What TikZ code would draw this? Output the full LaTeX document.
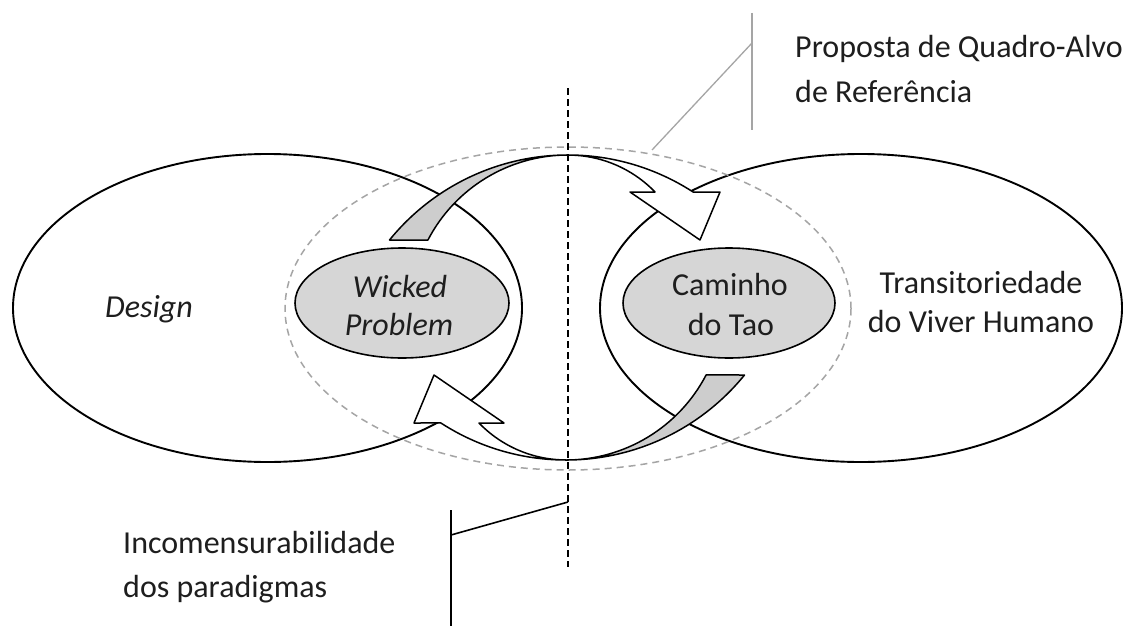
\documentclass[tikz,border=0pt]{standalone}
\usepackage{fontspec}
\setmainfont{Carlito}
\usetikzlibrary{shapes.geometric}
\definecolor{arrowgray}{RGB}{205,205,205}
\definecolor{ovalgray}{RGB}{214,214,214}
\definecolor{dashgray}{RGB}{165,165,165}
\definecolor{txtcol}{RGB}{30,30,30}
\newcommand{\curvedarrowshape}{%
  \filldraw[arrowpart, fill=arrowgray] (389.5,240) arc[start angle=219.08, end angle=270, radius=230]
    arc[start angle=270, end angle=207.5, radius=158] -- cycle;
  \filldraw[arrowpart, fill=white] (568,155) arc[start angle=270, end angle=302.96, radius=230]
    -- (720,192) -- (700,240) -- (630,192) -- (655,192)
    arc[start angle=316, end angle=270, radius=121] -- cycle;
}
\begin{document}
\begin{tikzpicture}[x=1pt,y=-1pt,line join=round]
\tikzset{
  bigell/.style={draw=black, line width=1.9pt},
  frame/.style={draw=dashgray, line width=1.5pt, dash pattern=on 7pt off 5pt},
  oval/.style={ellipse, draw=black, fill=ovalgray, line width=1.6pt, inner sep=0pt},
  arrowpart/.style={draw=black, line width=1.5pt},
  txt/.style={font=\fontsize{32}{38}\selectfont, text=txtcol, anchor=base, inner sep=0pt},
  txtl/.style={txt, anchor=base west},
  grayleader/.style={draw=dashgray, line width=1.3pt},
  blackleader/.style={draw=black, line width=1.6pt}
}
\useasboundingbox[fill=white] (0,0) rectangle (1139,626);

% big ellipses
\draw[bigell] (267.5,308) ellipse [x radius=254.5, y radius=154];
\draw[bigell] (861,308) ellipse [x radius=261, y radius=154];
% dashed frame
\draw[frame] (568,308.5) ellipse [x radius=283, y radius=161.5];

% inner ovals
\node[oval, minimum width=214pt, minimum height=110pt] (wp) at (402,303) {};
\node[oval, minimum width=212pt, minimum height=110pt] (ct) at (729,303) {};

% curved arrows
\curvedarrowshape
\begin{scope}[rotate around={180:(567,307.5)}]
\curvedarrowshape
\end{scope}

% vertical dashed line
\coordinate (vt) at (568,88);
\coordinate (vb) at (568,567);
\draw[black, line width=1.6pt, dash pattern=on 7pt off 4pt] (vt) -- (vb);

% leaders
\coordinate (pq) at (652,150);
\coordinate (pk) at (752,43);
\coordinate (pt) at (752,13);
\coordinate (pb) at (752,130);
\draw[grayleader] (pq) -- (pk);
\draw[grayleader] (pt) -- (pb);

\coordinate (ia) at (568,502);
\coordinate (ib) at (451,535);
\coordinate (it) at (451,510);
\coordinate (ibot) at (451,626);
\draw[blackleader] (ia) -- (ib);
\draw[blackleader] (it) -- (ibot);

% texts
\node[txt, font=\fontsize{32}{38}\selectfont\itshape] (design) at (149,317) {Design};
\node[txt, font=\fontsize{32}{38}\selectfont\itshape] (wp1) at (400,297) {Wicked};
\node[txt, font=\fontsize{32}{38}\selectfont\itshape] (wp2) at (399,335) {Problem};
\node[txt] (ct1) at (730,295) {Caminho};
\node[txt] (ct2) at (731,335) {do Tao};
\node[txt] (tv1) at (981,293) {Transitoriedade};
\node[txt] (tv2) at (981,332) {do Viver Humano};
\node[txtl] (pr1) at (795,57) {Proposta de Quadro-Alvo};
\node[txtl] (pr2) at (795,102) {de Referência};
\node[txtl] (in1) at (123,553) {Incomensurabilidade};
\node[txtl] (in2) at (123,597) {dos paradigmas};
\end{tikzpicture}
\end{document}
